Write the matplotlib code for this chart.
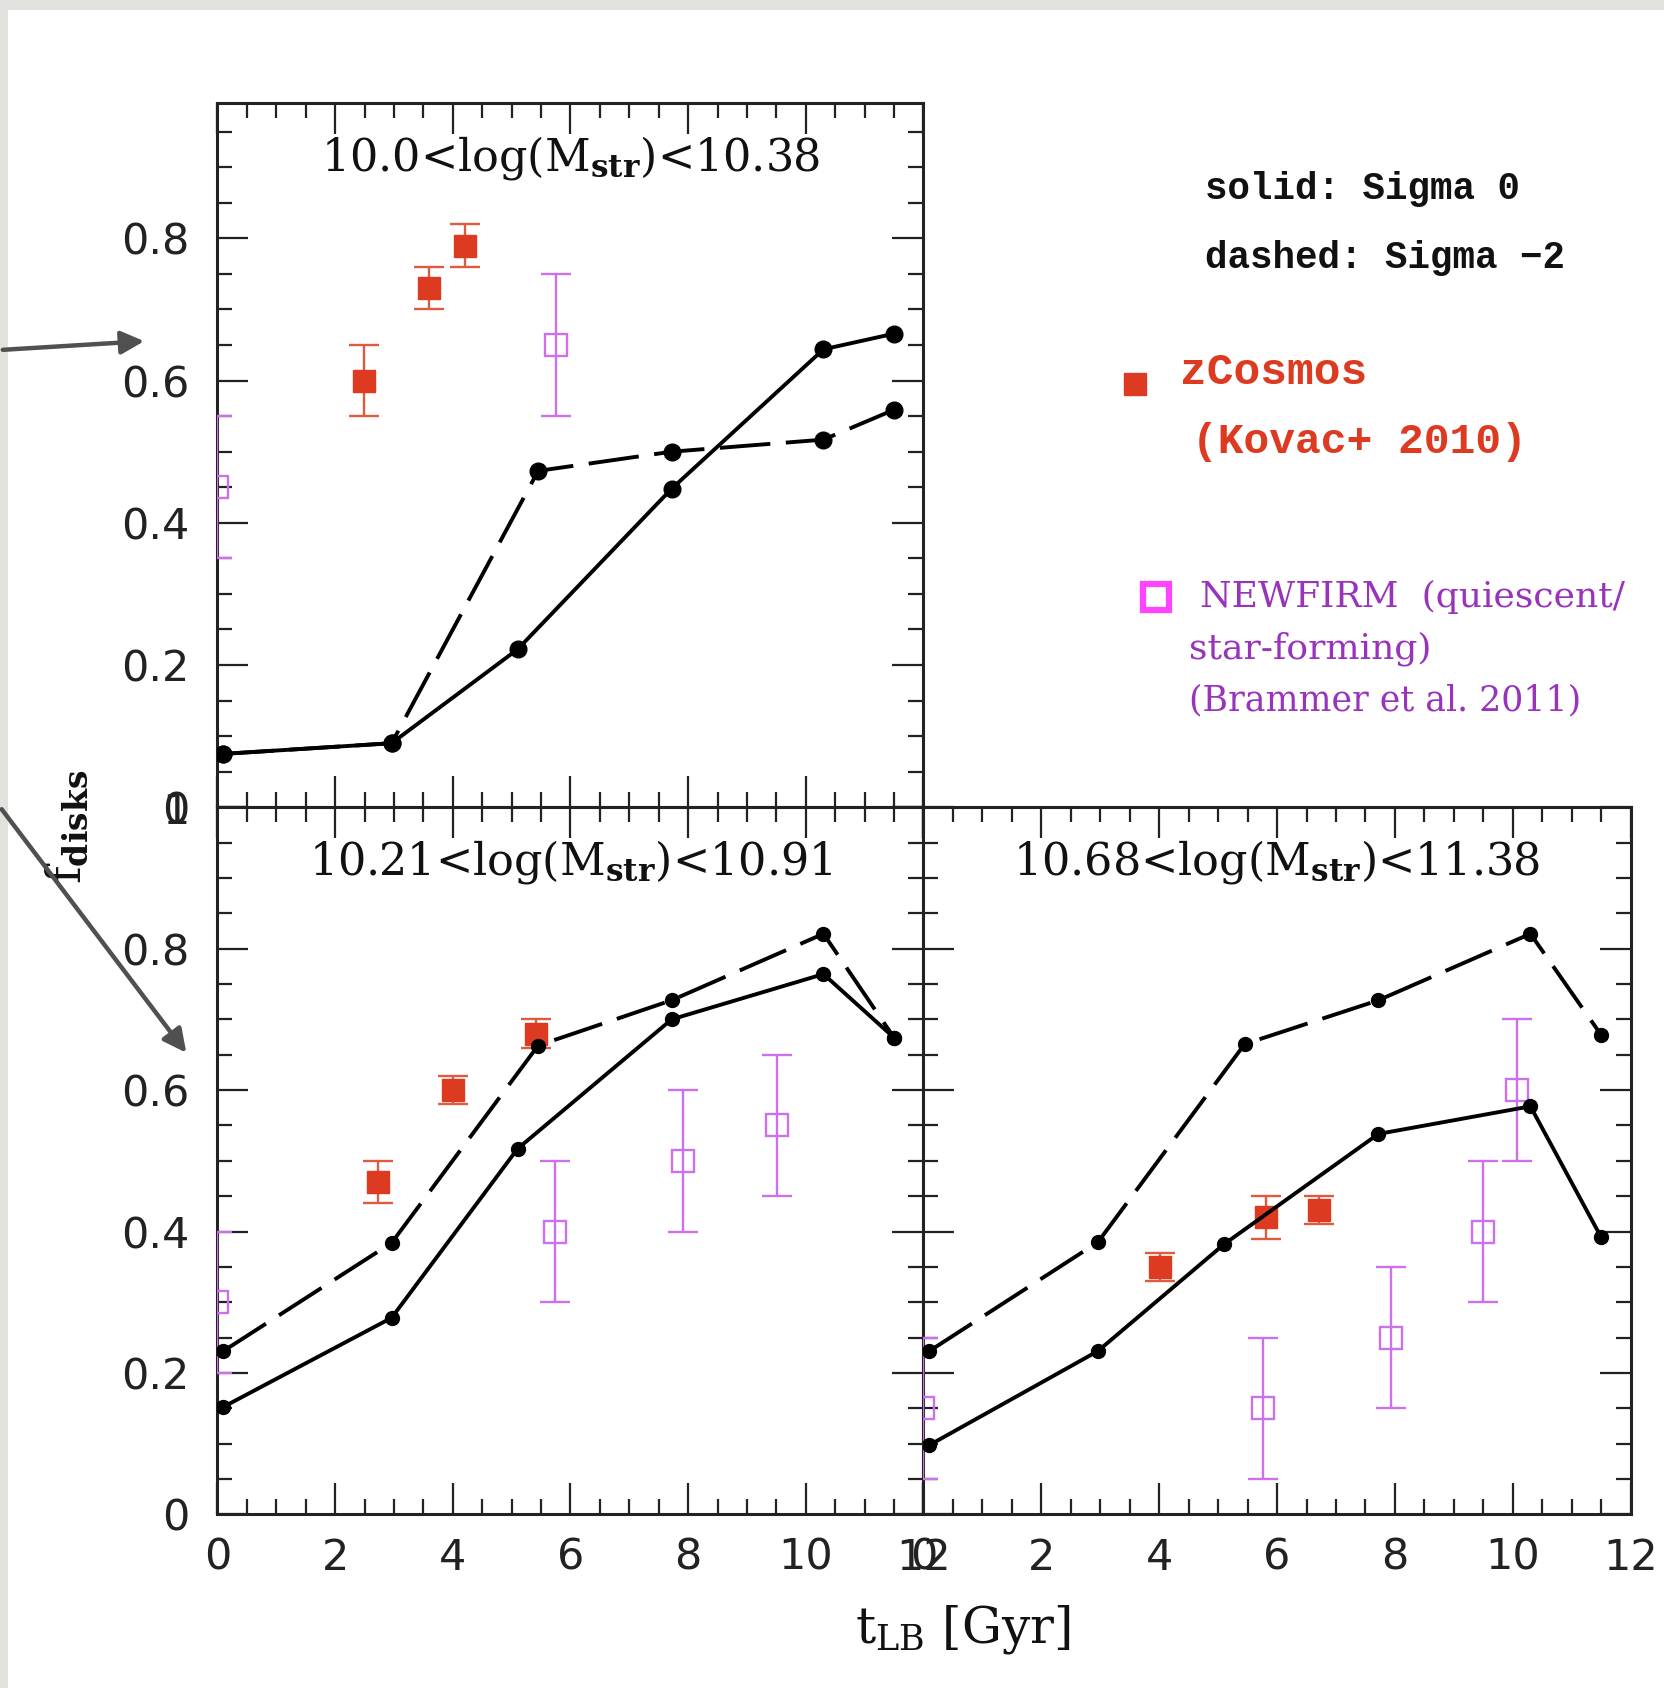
import matplotlib
matplotlib.use("Agg")
import matplotlib.pyplot as plt
from matplotlib.ticker import MultipleLocator, FuncFormatter
from matplotlib.patches import FancyArrowPatch, Rectangle
from matplotlib.lines import Line2D

# ---------------- data ----------------
t_solid = [0.1, 2.96, 5.1, 7.72, 10.3, 11.5]
t_dashed = [0.1, 2.96, 5.45, 7.72, 10.3, 11.5]

titles = [r"10.0<log(M$_{\mathbf{str}}$)<10.38",
          r"10.21<log(M$_{\mathbf{str}}$)<10.91",
          r"10.68<log(M$_{\mathbf{str}}$)<11.38"]

solid_p1 = [0.075, 0.09, 0.222, 0.448, 0.644, 0.666]
dashed_p1 = [0.075, 0.09, 0.473, 0.500, 0.517, 0.559]
zc_t_p1 = [2.49, 3.60, 4.20]
zc_f_p1 = [0.60, 0.73, 0.79]
zc_e_p1 = [0.05, 0.03, 0.03]
nf_t_p1 = [0.0, 5.75]
nf_f_p1 = [0.45, 0.65]
nf_e_p1 = [0.10, 0.10]

solid_p2 = [0.152, 0.278, 0.517, 0.700, 0.764, 0.674]
dashed_p2 = [0.231, 0.384, 0.663, 0.727, 0.821, 0.674]
zc_t_p2 = [2.73, 4.00, 5.41]
zc_f_p2 = [0.47, 0.60, 0.68]
zc_e_p2 = [0.03, 0.02, 0.02]
nf_t_p2 = [0.0, 5.74, 7.92, 9.51]
nf_f_p2 = [0.30, 0.40, 0.50, 0.55]
nf_e_p2 = [0.10, 0.10, 0.10, 0.10]

solid_p3 = [0.098, 0.231, 0.382, 0.538, 0.577, 0.392]
dashed_p3 = [0.231, 0.385, 0.665, 0.727, 0.821, 0.678]
zc_t_p3 = [4.01, 5.81, 6.71]
zc_f_p3 = [0.35, 0.42, 0.43]
zc_e_p3 = [0.02, 0.03, 0.02]
nf_t_p3 = [0.0, 5.76, 7.93, 9.50, 10.08]
nf_f_p3 = [0.15, 0.15, 0.25, 0.40, 0.60]
nf_e_p3 = [0.10, 0.10, 0.10, 0.10, 0.10]

x_ticks = [0, 2, 4, 6, 8, 10, 12]
y_ticks = [0, 0.2, 0.4, 0.6, 0.8, 1.0]

# ---------------- style ----------------
RED = "#dd3a22"
RED_ERR = "#e05a40"
PURPLE = "#cc70ec"
MAGENTA = "#ff44ff"
NF_TEXT = "#9933bb"

plt.rcParams["font.family"] = ["DejaVu Sans"]
plt.rcParams["mathtext.fontset"] = "dejavuserif"

W, H = 1665, 1688
fig = plt.figure(figsize=(W / 100, H / 100), dpi=100)
fig.patch.set_facecolor("white")

# grey frame of the original slide
fig.add_artist(Rectangle((0, 1 - 10 / H), 1, 10 / H, transform=fig.transFigure,
                         facecolor="#e2e2de", edgecolor="none", zorder=0))
fig.add_artist(Rectangle((0, 0), 8 / W, 1, transform=fig.transFigure,
                         facecolor="#e2e2de", edgecolor="none", zorder=0))


def fx(px):
    return px / W


def fy(py):
    return 1 - py / H


L, M, R = 217.5, 923.5, 1630.6
T, C, B = 103.3, 807.2, 1514.4

ax1 = fig.add_axes([fx(L), fy(C), fx(M) - fx(L), fy(T) - fy(C)])
ax2 = fig.add_axes([fx(L), fy(B), fx(M) - fx(L), fy(C) - fy(B)])
ax3 = fig.add_axes([fx(M), fy(B), fx(R) - fx(M), fy(C) - fy(B)])

panels = [
    (ax1, solid_p1, dashed_p1, zc_t_p1, zc_f_p1, zc_e_p1, nf_t_p1, nf_f_p1, nf_e_p1, 0.99),
    (ax2, solid_p2, dashed_p2, zc_t_p2, zc_f_p2, zc_e_p2, nf_t_p2, nf_f_p2, nf_e_p2, 1.0),
    (ax3, solid_p3, dashed_p3, zc_t_p3, zc_f_p3, zc_e_p3, nf_t_p3, nf_f_p3, nf_e_p3, 1.0),
]

fmt = FuncFormatter(lambda v, p: "%g" % round(v, 2))

for i, (ax, sol, das, zt, zf, ze, nt, nfv, ne, ytop) in enumerate(panels):
    ax.set_xlim(0, 12)
    ax.set_ylim(0, ytop)
    ms_dot = 12 if i == 0 else 10
    # NEWFIRM
    ax.errorbar(nt, nfv, yerr=ne, fmt="s", mfc="none", mec=PURPLE, ms=16,
                mew=1.7, ecolor=PURPLE, elinewidth=1.7, capsize=11, capthick=1.7,
                zorder=3)
    # zCosmos
    ax.errorbar(zt, zf, yerr=ze, fmt="s", mfc=RED, mec=RED, ms=16,
                ecolor=RED_ERR, elinewidth=1.7, capsize=11, capthick=1.7, zorder=4)
    # models
    ax.plot(t_solid, sol, "-", color="black", lw=2.8, marker="o", ms=ms_dot, zorder=5)
    ax.plot(t_dashed, das, color="black", lw=2.8, ls=(0, (13, 4)), marker="o",
            ms=ms_dot, zorder=5)

    ax.set_xticks(x_ticks)
    ax.set_yticks([v for v in y_ticks if v <= ytop + 1e-9])
    ax.xaxis.set_minor_locator(MultipleLocator(0.5))
    ax.yaxis.set_minor_locator(MultipleLocator(0.05))
    ax.xaxis.set_major_formatter(fmt)
    ax.yaxis.set_major_formatter(fmt)
    ax.tick_params(which="both", direction="in", top=True, right=True,
                   width=1.6, colors="#222222", labelsize=31)
    ax.tick_params(axis="y", pad=20)
    ax.tick_params(axis="x", pad=16)
    ax.tick_params(which="major", length=22)
    ax.tick_params(which="minor", length=11)
    for s in ax.spines.values():
        s.set_linewidth(2.2)
        s.set_color("#222222")
    ax.text(0.5, 0.922, titles[i], transform=ax.transAxes, ha="center",
            va="center", fontsize=32, family="DejaVu Serif", color="#111111")

ax1.tick_params(labelbottom=False)
ax3.tick_params(labelleft=False)

# axis labels
fig.text(fx(68), fy(827), r"f$_{\mathbf{disks}}$", rotation=90, ha="center",
         va="center", fontsize=34, family="DejaVu Serif", color="#111111")
fig.text(fx(963), fy(1630), r"t$_{\mathrm{LB}}$ [Gyr]", ha="center", va="center",
         fontsize=36, family="DejaVu Serif", color="#111111")

# legend-like annotations
fig.text(fx(1205), fy(189), "solid: Sigma 0", ha="left", va="center",
         fontsize=27, family="Liberation Mono", weight="bold", color="#111111")
fig.text(fx(1205), fy(258), "dashed: Sigma \u22122", ha="left", va="center",
         fontsize=27, family="Liberation Mono", weight="bold", color="#111111")

fig.add_artist(Line2D([fx(1135)], [fy(384)], marker="s", ms=16, color=RED,
                      mec=RED, transform=fig.transFigure))
fig.text(fx(1180), fy(373), "zCosmos", ha="left", va="center",
         fontsize=32, family="Liberation Mono", weight="bold", color=RED)
fig.text(fx(1192), fy(442), "(Kovac+ 2010)", ha="left", va="center",
         fontsize=31, family="Liberation Mono", weight="bold", color=RED)

fig.add_artist(Line2D([fx(1156)], [fy(597)], marker="s", ms=19, mfc="none",
                      mec=MAGENTA, mew=4.5, transform=fig.transFigure))
fig.text(fx(1200), fy(597), "NEWFIRM  (quiescent/", ha="left", va="center",
         fontsize=26, family="DejaVu Serif", color=NF_TEXT)
fig.text(fx(1189), fy(649), "star-forming)", ha="left", va="center",
         fontsize=26, family="DejaVu Serif", color=NF_TEXT)
fig.text(fx(1189), fy(700), "(Brammer et al. 2011)", ha="left", va="center",
         fontsize=25, family="DejaVu Serif", color=NF_TEXT)

# arrows from the slide
for (x0, y0, x1, y1) in [(0, 350, 147, 341), (0, 807, 188, 1055)]:
    fig.add_artist(FancyArrowPatch((fx(x0), fy(y0)), (fx(x1), fy(y1)),
                                   transform=fig.transFigure,
                                   arrowstyle="-|>,head_length=14,head_width=7",
                                   color="#505050", lw=3.2, zorder=10))

fig.savefig("out.png", dpi=100, facecolor="white")
